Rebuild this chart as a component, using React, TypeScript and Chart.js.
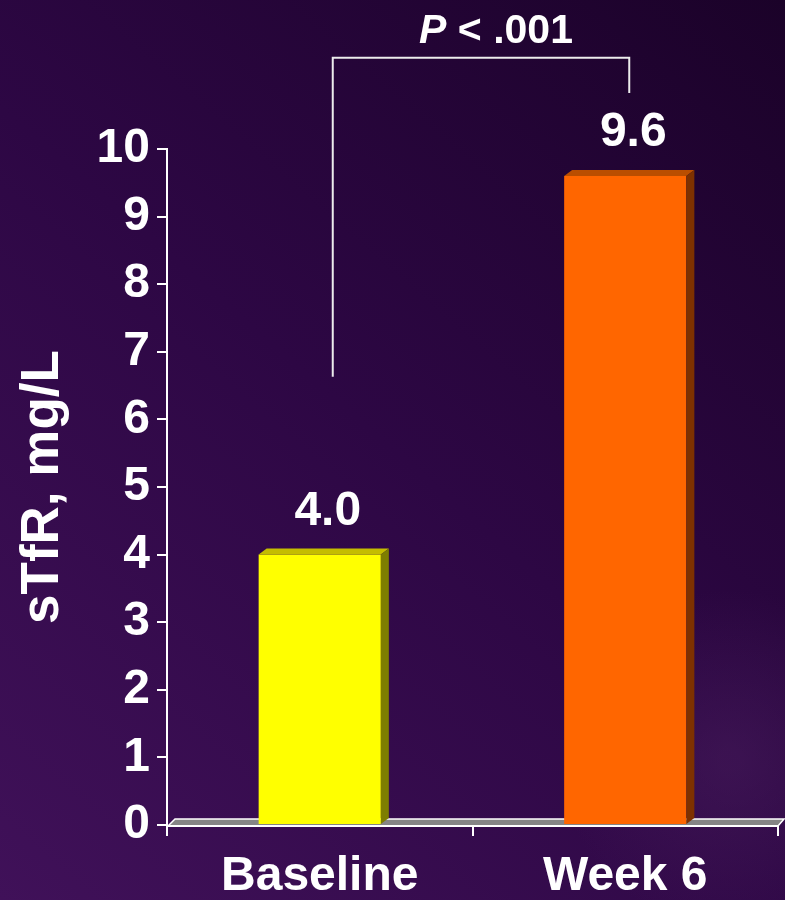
import { useEffect, useRef } from "react";
import { Chart, registerables } from "chart.js";

Chart.register(...registerables);

// Chart data
const categories = ["Baseline", "Week 6"];
const values = [4.0, 9.6];
const valueLabels = ["4.0", "9.6"];
const yMin = 0;
const yMax = 10;
const yStep = 1;
const axisTitle = "sTfR, mg/L";
const pPrefix = "P";
const pSuffix = " < .001";
// Bracket heights in axis units (top bar, left leg end, right leg end)
const bracketLevels = [11.35, 6.63, 10.83];

// Styling
const faceColors = ["#FFFF00", "#FF6600"];
const topColors = ["#C4BD00", "#BA4E00"];
const sideColors = ["#7E7E00", "#7E3100"];
const FONT = "'Liberation Sans', Arial, Helvetica, sans-serif";
const DEPTH_X = 8;
const DEPTH_Y = 6;

const depthPlugin = {
  id: "depthBars",
  beforeDraw(chart: any) {
    const { ctx, width, height } = chart;
    ctx.save();
    const g = ctx.createLinearGradient(width, 0, 0, height);
    g.addColorStop(0, "#1b0229");
    g.addColorStop(0.5, "#2d0744");
    g.addColorStop(1, "#401159");
    ctx.fillStyle = g;
    ctx.fillRect(0, 0, width, height);
    const r = ctx.createRadialGradient(730, 760, 10, 730, 760, 170);
    r.addColorStop(0, "rgba(80, 35, 100, 0.4)");
    r.addColorStop(1, "rgba(80, 35, 100, 0)");
    ctx.fillStyle = r;
    ctx.fillRect(0, 0, width, height);
    ctx.restore();
  },
  beforeDatasetsDraw(chart: any) {
    const { ctx } = chart;
    const xs = chart.scales.x;
    const ys = chart.scales.y;
    const y0 = ys.getPixelForValue(0) + 1;
    const l = xs.left + 1;
    const rgt = xs.right;
    const yb = y0 - DEPTH_Y - 1;
    ctx.save();
    // floor slab
    ctx.beginPath();
    ctx.moveTo(l, y0);
    ctx.lineTo(l + DEPTH_X - 1, yb);
    ctx.lineTo(rgt + DEPTH_X - 2, yb);
    ctx.lineTo(rgt, y0);
    ctx.closePath();
    ctx.fillStyle = "#858585";
    ctx.fill();
    // back and side edges
    ctx.strokeStyle = "#ffffff";
    ctx.lineWidth = 1.5;
    ctx.beginPath();
    ctx.moveTo(l, y0);
    ctx.lineTo(l + DEPTH_X - 1, yb);
    ctx.lineTo(rgt + DEPTH_X - 2, yb);
    ctx.lineTo(rgt, y0);
    ctx.stroke();
    ctx.restore();
  },
  afterDatasetsDraw(chart: any) {
    const { ctx } = chart;
    const ys = chart.scales.y;
    const xs = chart.scales.x;
    const meta = chart.getDatasetMeta(0);
    ctx.save();
    meta.data.forEach((el: any, i: number) => {
      const { x, y, base, width } = el.getProps(["x", "y", "base", "width"], true);
      const left = x - width / 2;
      const right = x + width / 2;
      // top face
      ctx.beginPath();
      ctx.moveTo(left, y);
      ctx.lineTo(left + DEPTH_X, y - DEPTH_Y);
      ctx.lineTo(right + DEPTH_X, y - DEPTH_Y);
      ctx.lineTo(right, y);
      ctx.closePath();
      ctx.fillStyle = topColors[i];
      ctx.fill();
      // side face
      ctx.beginPath();
      ctx.moveTo(right, y);
      ctx.lineTo(right + DEPTH_X, y - DEPTH_Y);
      ctx.lineTo(right + DEPTH_X, base - DEPTH_Y);
      ctx.lineTo(right, base);
      ctx.closePath();
      ctx.fillStyle = sideColors[i];
      ctx.fill();
      // value label
      ctx.fillStyle = "#ffffff";
      ctx.font = `bold 48px ${FONT}`;
      ctx.textAlign = "center";
      ctx.textBaseline = "alphabetic";
      ctx.fillText(valueLabels[i], x + 8, y - 30);
    });

    // floor front edge
    const y0 = ys.getPixelForValue(0) + 1;
    ctx.strokeStyle = "#ffffff";
    ctx.lineWidth = 2;
    ctx.beginPath();
    ctx.moveTo(xs.left, y0);
    ctx.lineTo(xs.right, y0);
    ctx.stroke();

    // significance bracket
    const el0 = meta.data[0];
    const el1 = meta.data[1];
    const xl = el0.x + 13;
    const xr = el1.x + 4;
    const yTop = ys.getPixelForValue(bracketLevels[0]);
    const yLeft = ys.getPixelForValue(bracketLevels[1]);
    const yRight = ys.getPixelForValue(bracketLevels[2]);
    ctx.strokeStyle = "#ececec";
    ctx.lineWidth = 2;
    ctx.beginPath();
    ctx.moveTo(xl, yLeft);
    ctx.lineTo(xl, yTop);
    ctx.lineTo(xr, yTop);
    ctx.lineTo(xr, yRight);
    ctx.stroke();

    // P value text
    const italic = `italic bold 41px ${FONT}`;
    const upright = `bold 41px ${FONT}`;
    ctx.font = italic;
    const wP = ctx.measureText(pPrefix).width;
    ctx.font = upright;
    const wS = ctx.measureText(pSuffix).width;
    const cx = (xl + xr) / 2 + 15;
    const startX = cx - (wP + wS) / 2;
    const baseY = yTop - 15;
    ctx.fillStyle = "#ffffff";
    ctx.textAlign = "left";
    ctx.textBaseline = "alphabetic";
    ctx.font = italic;
    ctx.fillText(pPrefix, startX, baseY);
    ctx.font = upright;
    ctx.fillText(pSuffix, startX + wP, baseY);
    ctx.restore();
  },
};

export default function App() {
  const canvasRef = useRef<HTMLCanvasElement | null>(null);

  useEffect(() => {
    document.body.style.margin = "0";
    const canvas = canvasRef.current;
    if (!canvas) return;
    const chart = new Chart(canvas, {
      type: "bar",
      data: {
        labels: categories,
        datasets: [
          {
            data: values,
            backgroundColor: faceColors,
            borderWidth: 0,
            barPercentage: 0.4,
            categoryPercentage: 1.0,
          },
        ],
      },
      options: {
        animation: false,
        responsive: false,
        devicePixelRatio: 1,
        layout: { padding: { top: 149, right: 7, bottom: 0, left: 0 } },
        plugins: {
          legend: { display: false },
          tooltip: { enabled: false },
        },
        scales: {
          x: {
            offset: true,
            grid: {
              offset: true,
              drawOnChartArea: false,
              drawTicks: true,
              tickLength: 11,
              color: "#ffffff",
              lineWidth: 2,
            },
            border: { display: false },
            ticks: {
              color: "#ffffff",
              font: { family: FONT, size: 48, weight: "bold" },
              padding: 12,
              maxRotation: 0,
              autoSkip: false,
            },
            afterFit(scale: any) {
              scale.height = 75;
            },
          },
          y: {
            min: yMin,
            max: yMax,
            ticks: {
              stepSize: yStep,
              color: "#ffffff",
              font: { family: FONT, size: 48, weight: "bold" },
              padding: 7,
            },
            grid: {
              drawOnChartArea: false,
              drawTicks: true,
              tickLength: 10,
              color: "#ffffff",
              lineWidth: 2,
            },
            border: { display: true, color: "#ffffff", width: 2 },
            title: {
              display: true,
              text: axisTitle,
              color: "#ffffff",
              font: { family: FONT, size: 53, weight: "bold" },
              padding: { top: 12, bottom: 0 },
            },
            afterFit(scale: any) {
              scale.width = 167;
            },
          },
        },
      },
      plugins: [depthPlugin],
    });
    return () => chart.destroy();
  }, []);

  return (
    <div style={{ width: 785, height: 900 }}>
      <canvas ref={canvasRef} width={785} height={900} />
    </div>
  );
}
